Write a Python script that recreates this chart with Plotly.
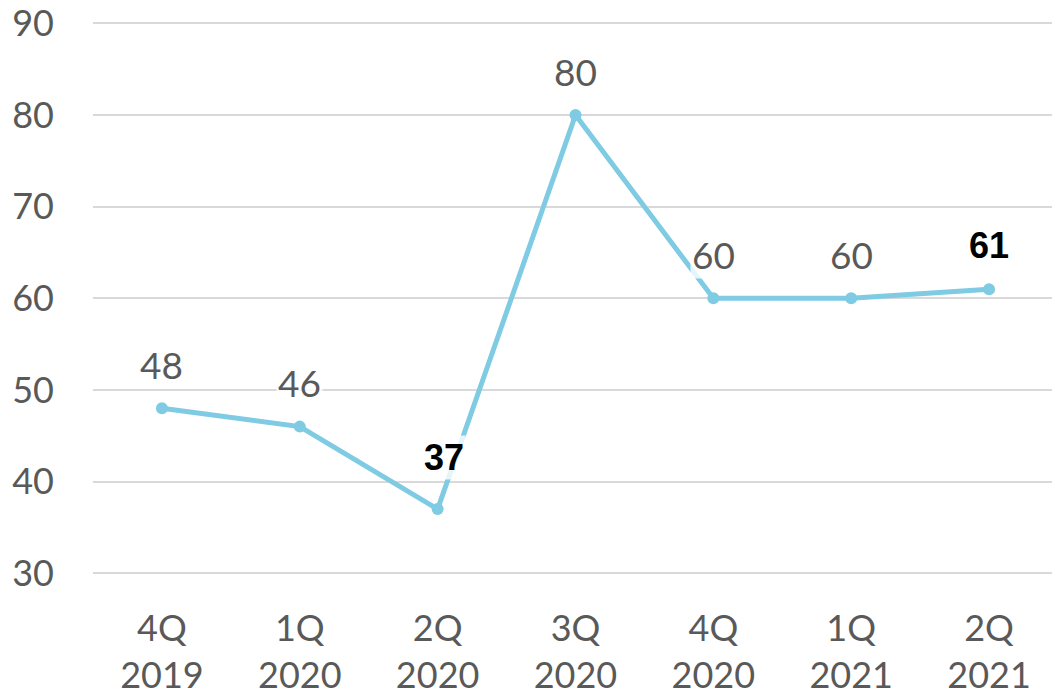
import plotly.graph_objs as go

quarters = ["4Q<br>2019", "1Q<br>2020", "2Q<br>2020", "3Q<br>2020",
            "4Q<br>2020", "1Q<br>2021", "2Q<br>2021"]
values = [48, 46, 37, 80, 60, 60, 61]
highlight = [False, False, True, False, False, False, True]

fig = go.Figure(go.Scatter(
    x=quarters, y=values, mode="lines+markers",
    line=dict(color="#7ECBE3", width=5),
    marker=dict(color="#7ECBE3", size=12),
    hoverinfo="skip"))

# data labels with translucent white boxes, bold black for highlighted quarters
annotations = []
for q, v, h in zip(quarters, values, highlight):
    annotations.append(dict(
        x=q, y=v, xref="x", yref="y", showarrow=False,
        text="<b>%d</b>" % v if h else str(v),
        font=dict(family="Liberation Sans" if h else "Lato",
                  size=36 if h else 37, color="#000000" if h else "#595959"),
        bgcolor="rgba(255,255,255,0.8)",
        yshift=52 if v == 37 else 44, xshift=6 if v == 37 else 0))

# page body adds an 8px offset, so the figure is a bit smaller than the window
fig.update_layout(
    width=1052, height=690,
    margin=dict(l=85, r=2, t=14, b=122),
    paper_bgcolor="white", plot_bgcolor="white",
    showlegend=False,
    font=dict(family="Lato", color="#595959", size=37),
    annotations=annotations,
    xaxis=dict(range=[-0.5, 6.5], showgrid=False, showline=False, zeroline=False,
               ticks="", tickfont=dict(size=36), ticklabelstandoff=28,
               automargin=False),
    yaxis=dict(range=[29.7, 90.15], tick0=30, dtick=10, showgrid=True,
               gridcolor="#D9D9D9", gridwidth=2, zeroline=False, showline=False,
               ticks="", tickfont=dict(size=36), ticklabelstandoff=38,
               ticklabeloverflow="allow", automargin=False),
)

fig.write_html("out.html")
